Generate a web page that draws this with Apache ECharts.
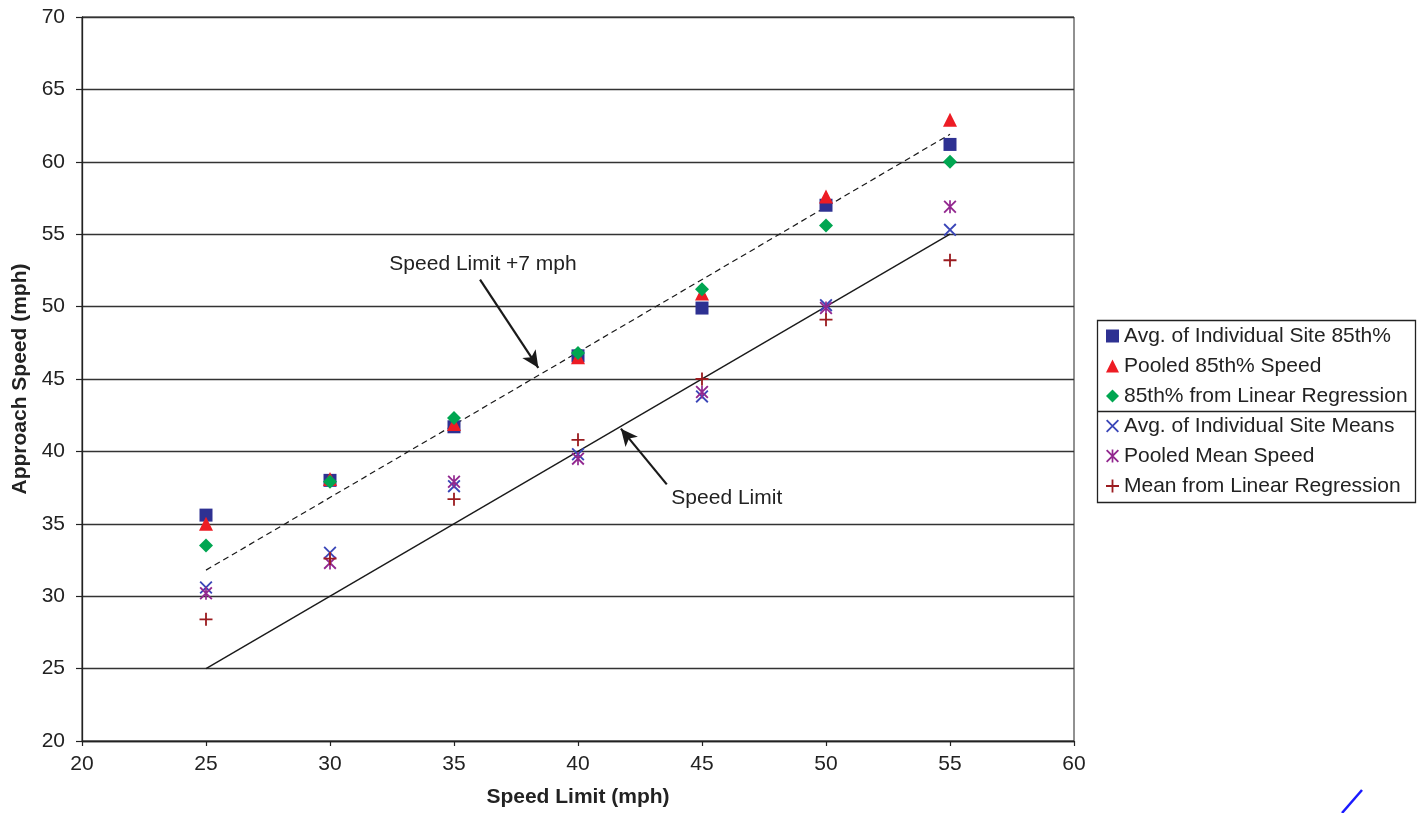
<!DOCTYPE html>
<html>
<head>
<meta charset="utf-8">
<script src="https://cdn.jsdelivr.net/npm/echarts@6/dist/echarts.min.js"></script>
<style>html,body{margin:0;padding:0;background:#fff}#c{width:1423px;height:813px}</style>
</head>
<body>
<div id="c"></div>
<script>
const speedLimits = [25, 30, 35, 40, 45, 50, 55];
const avgSite85 = [35.6, 38.0, 41.7, 46.6, 49.9, 57.0, 61.2];
const pooled85 = [35.0, 38.1, 41.9, 46.5, 50.9, 57.6, 62.9];
const reg85 = [33.5, 37.9, 42.3, 46.8, 51.2, 55.6, 60.0];
const avgSiteMean = [30.6, 33.0, 37.6, 39.8, 43.8, 50.1, 55.3];
const pooledMean = [30.2, 32.3, 37.9, 39.5, 44.1, 49.9, 56.9];
const regMean = [28.4, 32.6, 36.7, 40.8, 45.0, 49.1, 53.2];
const limitLineX = [25, 55];
const limitLineY = [25, 55];
const plus7LineY = [31.8, 61.9];
const xTicks = [20, 25, 30, 35, 40, 45, 50, 55, 60];
const yTicks = [20, 25, 30, 35, 40, 45, 50, 55, 60, 65, 70];
const plus7Label = 'Speed Limit +7 mph';
const plus7LabelAt = [36.17, 52.9];
const plus7Arrow = [[36.05, 51.86], [38.4, 45.77]];
const limitLabel = 'Speed Limit';
const limitLabelAt = [46.0, 36.76];
const limitArrow = [[43.58, 37.72], [41.73, 41.57]];

const FONT = '"Liberation Sans", Arial, Helvetica, sans-serif';
const TXT = '#222';
const pairs = ys => speedLimits.map((x, i) => [x, ys[i]]);

const P_X = 'path://M0 1L1 0L10 9L9 10Z M9 0L10 1L1 10L0 9Z';
const P_AST = 'path://M0 1L1 0L10 9L9 10Z M9 0L10 1L1 10L0 9Z M4.35 0L5.65 0L5.65 10L4.35 10Z';
const P_PLUS = 'path://M4.3 0L5.7 0L5.7 10L4.3 10Z M0 4.3L10 4.3L10 5.7L0 5.7Z';

const names = ['Avg. of Individual Site 85th%', 'Pooled 85th% Speed', '85th% from Linear Regression',
  'Avg. of Individual Site Means', 'Pooled Mean Speed', 'Mean from Linear Regression'];

function scatter(name, data, symbol, size, color) {
  return { type: 'scatter', name, data: pairs(data), symbol, symbolSize: size,
    itemStyle: { color, opacity: 1 }, z: 5, silent: true };
}

const chart = echarts.init(document.getElementById('c'), null, { renderer: 'canvas' });
chart.setOption({
  animation: false,
  backgroundColor: '#fff',
  textStyle: { fontFamily: FONT },
  grid: { left: 82, right: 349, top: 17, bottom: 71, show: true, borderColor: '#222', borderWidth: 1, backgroundColor: 'transparent' },
  xAxis: {
    type: 'value', min: xTicks[0], max: xTicks[xTicks.length - 1], interval: 5,
    name: 'Speed Limit (mph)', nameLocation: 'middle', nameGap: 46,
    nameTextStyle: { fontFamily: FONT, fontSize: 21, fontWeight: 'bold', color: TXT },
    axisLine: { lineStyle: { color: '#222', width: 1.3 } },
    axisTick: { show: true, length: 5, lineStyle: { color: '#222', width: 1.2 } },
    axisLabel: { fontFamily: FONT, fontSize: 21, color: TXT, margin: 13 },
    splitLine: { show: false }
  },
  yAxis: {
    type: 'value', min: yTicks[0], max: yTicks[yTicks.length - 1], interval: 5,
    name: 'Approach Speed (mph)', nameLocation: 'middle', nameGap: 50,
    nameTextStyle: { fontFamily: FONT, fontSize: 21, fontWeight: 'bold', color: TXT },
    axisLine: { show: true, lineStyle: { color: '#222', width: 1.3 } },
    axisTick: { show: true, length: 6, lineStyle: { color: '#222', width: 1.2 } },
    axisLabel: { fontFamily: FONT, fontSize: 21, color: TXT, margin: 17 },
    splitLine: { show: true, lineStyle: { color: '#333', width: 1.3 } }
  },
  legend: {
    data: names, orient: 'vertical', left: 1106, top: 325.5, padding: 0,
    itemWidth: 13, itemHeight: 13, itemGap: 9,
    textStyle: { fontFamily: FONT, fontSize: 21, color: TXT, lineHeight: 21 },
    selectedMode: false
  },
  graphic: [
    { type: 'rect', shape: { x: 1097.5, y: 320.5, width: 318, height: 182 }, style: { fill: 'none', stroke: '#222', lineWidth: 1.3 }, z: 100 },
    { type: 'line', shape: { x1: 1097.5, y1: 411.5, x2: 1415.5, y2: 411.5 }, style: { stroke: '#222', lineWidth: 1.3 }, z: 100 },
    { type: 'line', shape: { x1: 1342, y1: 813, x2: 1362, y2: 790 }, style: { stroke: '#1a1aff', lineWidth: 2.5 }, z: 100 }
  ],
  series: [
    {
      type: 'line', name: 'limit', data: limitLineX.map((x, i) => [x, limitLineY[i]]),
      symbol: 'none', lineStyle: { color: '#1a1a1a', width: 1.4 }, z: 3, silent: true,
      markLine: {
        silent: true, symbol: ['none', 'arrow'], symbolSize: [12, 17],
        lineStyle: { color: '#1a1a1a', width: 2.2, type: 'solid' }, label: { show: false },
        data: [
          [{ coord: plus7Arrow[0] }, { coord: plus7Arrow[1] }],
          [{ coord: limitArrow[0] }, { coord: limitArrow[1] }]
        ]
      },
      markPoint: {
        silent: true, symbol: 'circle', symbolSize: 0,
        label: { show: true, position: 'inside', fontFamily: FONT, fontSize: 21, color: TXT },
        data: [
          { coord: plus7LabelAt, value: plus7Label, label: { formatter: plus7Label } },
          { coord: limitLabelAt, value: limitLabel, label: { formatter: limitLabel } }
        ]
      }
    },
    {
      type: 'line', name: 'plus7', data: limitLineX.map((x, i) => [x, plus7LineY[i]]),
      symbol: 'none', lineStyle: { color: '#1a1a1a', width: 1.2, type: [6, 4] }, z: 3, silent: true
    },
    scatter(names[0], avgSite85, 'rect', 13, '#2E3192'),
    scatter(names[1], pooled85, 'triangle', 14, '#ED1C24'),
    scatter(names[2], reg85, 'diamond', 14, '#00A651'),
    scatter(names[3], avgSiteMean, P_X, 13, '#3A46B8'),
    scatter(names[4], pooledMean, P_AST, 13, '#92278F'),
    scatter(names[5], regMean, P_PLUS, 13, '#9B1C20')
  ]
});
</script>
</body>
</html>
